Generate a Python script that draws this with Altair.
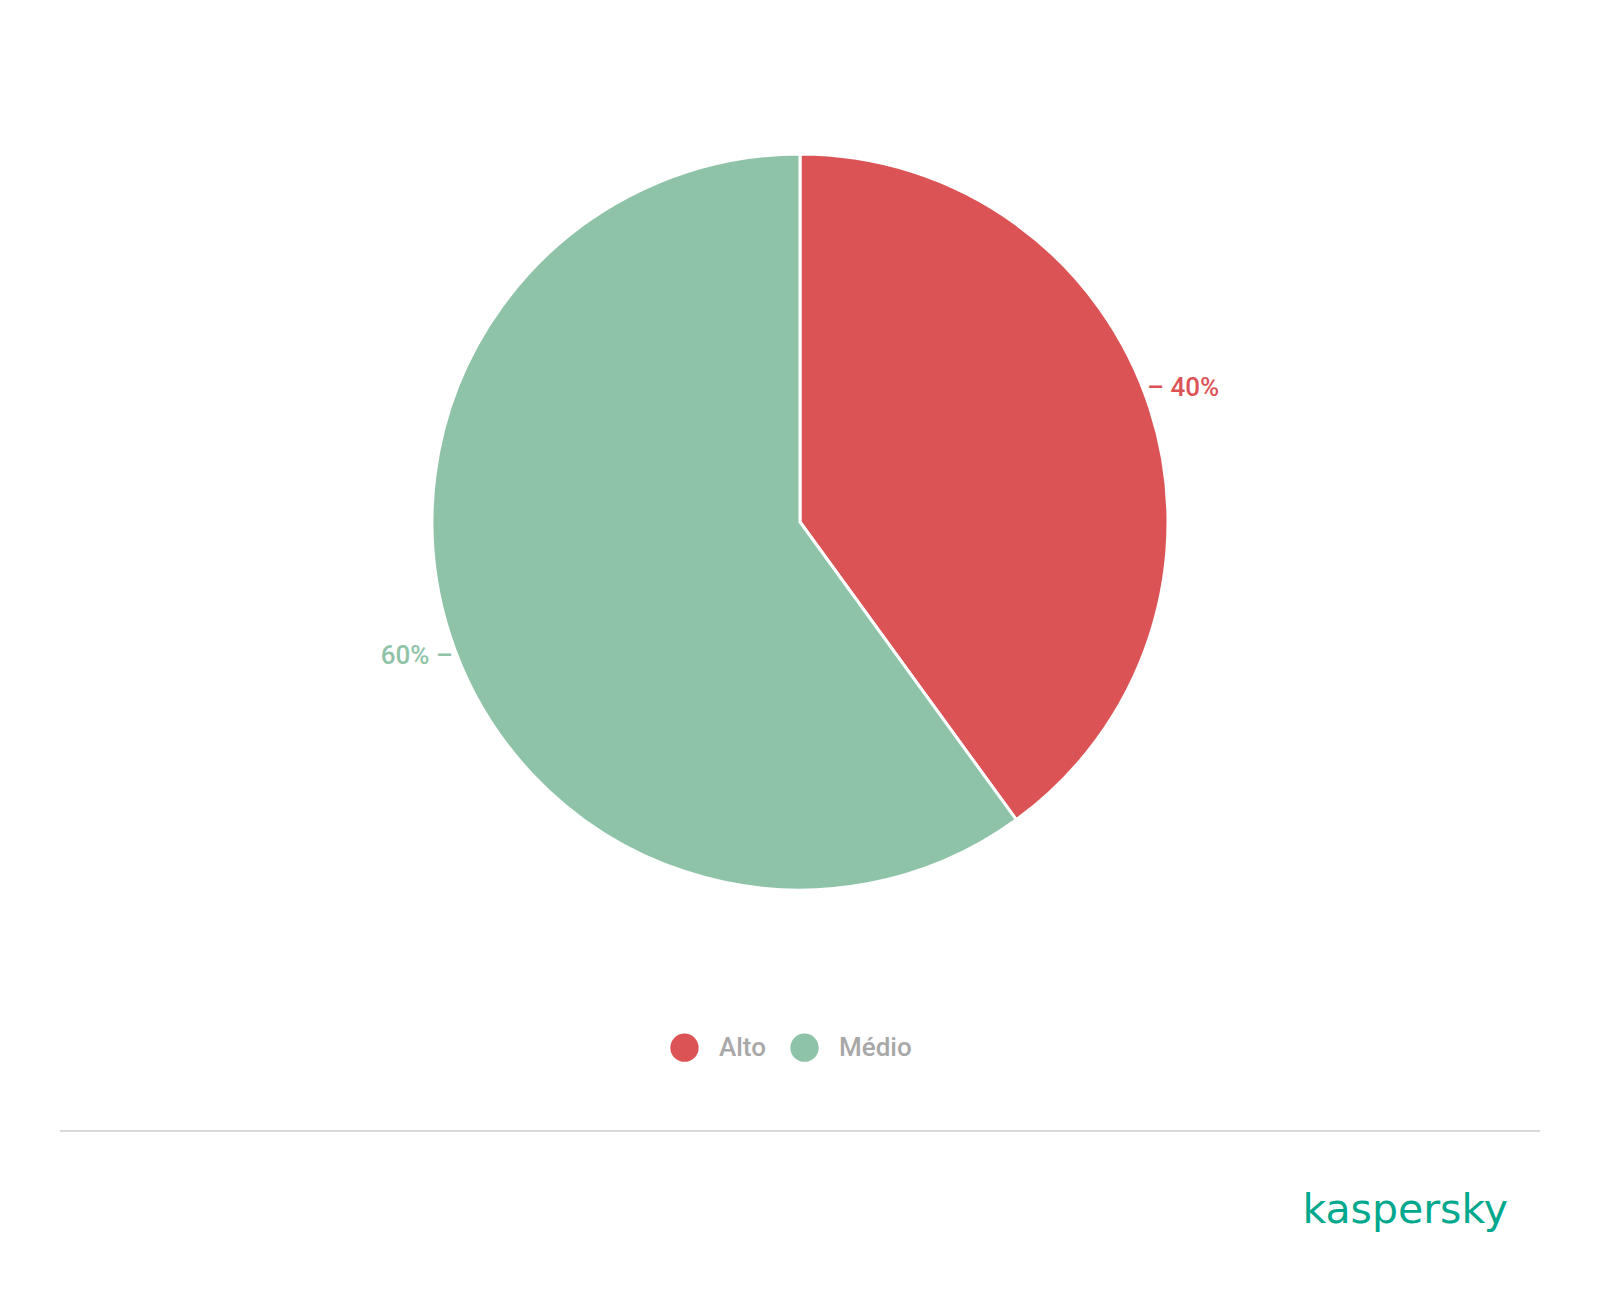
import altair as alt
import pandas as pd

categories = ["Alto", "Médio"]
values = [40, 60]
labels = ["– 40%", "60% –"]
colors = ["#dc5356", "#8fc3a8"]

df = pd.DataFrame({"categoria": categories, "valor": values, "rotulo": labels,
                   "ordem": [0, 1]})

W, H = 1584, 1278
CX, CY = 792, 514

color = alt.Color("categoria:N",
                  scale=alt.Scale(domain=categories, range=colors),
                  legend=alt.Legend(title=None, orient="none", legendX=662, legendY=1025,
                                    direction="horizontal", symbolType="circle",
                                    symbolSize=800, symbolStrokeWidth=0, symbolOpacity=1,
                                    labelFont="Roboto", labelFontSize=26, labelFontWeight=500,
                                    labelColor="#a8a8a8", labelOffset=20,
                                    columnPadding=24))

base = alt.Chart(df).encode(
    theta=alt.Theta("valor:Q", stack=True),
    color=color,
    order=alt.Order("ordem:Q"),
    x=alt.value(CX),
    y=alt.value(CY),
)

pie = base.mark_arc(outerRadius=368, stroke="white", strokeWidth=3)

text = base.mark_text(radius=406, thetaOffset=-0.022, font="Roboto", fontSize=26,
                      fontWeight=500, align="center", baseline="middle").encode(text="rotulo:N")

rule_df = pd.DataFrame({"k": [0]})
rule = alt.Chart(rule_df).mark_rule(color="#d9d9d9", strokeWidth=2).encode(
    x=alt.value(52), x2=alt.value(1532), y=alt.value(1123))

logo = alt.Chart(pd.DataFrame({"t": ["kaspersky"]})).mark_text(
    font="DejaVu Sans", fontSize=41, color="#00a88e", align="right",
    baseline="alphabetic").encode(text="t:N", x=alt.value(1500), y=alt.value(1215))

chart = alt.layer(pie, text, rule, logo).properties(
    width=W, height=H, padding=0, autosize=alt.AutoSizeParams(type="none")
).configure_view(stroke=None)

chart.save("out.html", embed_options={"renderer": "svg", "actions": False})
